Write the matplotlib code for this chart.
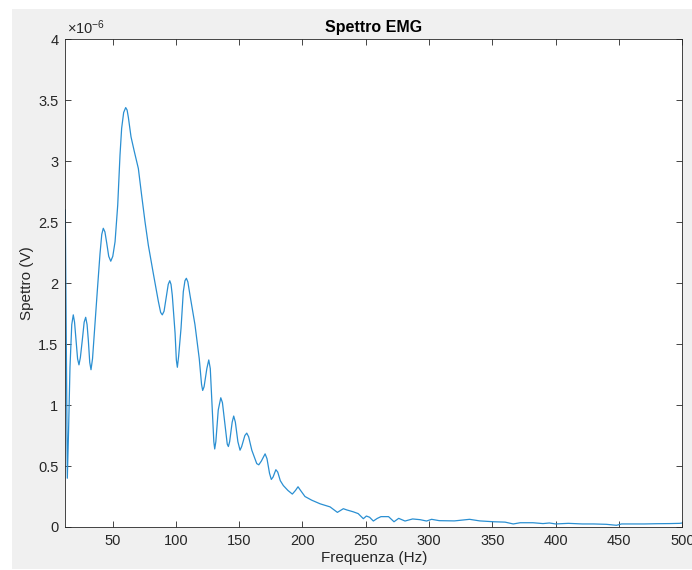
import matplotlib
matplotlib.use('Agg')
import matplotlib.pyplot as plt
from matplotlib.patches import Rectangle

plt.rcParams['font.family'] = ['Liberation Sans', 'DejaVu Sans']
plt.rcParams['mathtext.default'] = 'regular'

# spettro EMG, valori in unita' di 1e-6 V
freq = [12.7, 14.3, 15.3, 16.4, 17.8, 19.0, 20.0, 21.2, 22.4, 23.5, 24.6, 26.1,
        27.6, 28.8, 29.9, 30.9, 32.0, 33.0, 34.2, 35.6, 38.0, 40.1, 41.5, 42.7,
        44.0, 45.4, 47.0, 48.6, 50.2, 52.0, 54.1, 55.9, 57.2, 58.8, 60.4, 61.5,
        62.5, 64.6, 67.2, 70.4, 73.0, 75.7, 78.3, 82.2, 86.2, 88.0, 89.3, 90.7,
        92.2, 94.0, 95.2, 96.2, 97.2, 99.4, 100.4, 101.2, 102.2, 104.1, 105.9, 107.2,
        108.3, 109.5, 111.2, 115.1, 118.5, 120.3, 121.2, 122.3, 124.5, 126.0, 127.2, 128.8,
        130.0, 130.7, 131.6, 133.5, 135.5, 136.8, 139.0, 140.6, 141.5, 142.5, 144.5, 145.7,
        147.0, 149.0, 150.7, 152.0, 154.5, 156.0, 157.5, 160.0, 163.9, 165.5, 167.5, 170.5,
        172.0, 174.0, 175.4, 176.8, 179.0, 180.5, 182.5, 184.9, 188.5, 192.0, 194.5, 196.5,
        198.5, 202.0, 207.3, 214.0, 221.8, 225.0, 227.6, 230.0, 232.3, 235.0, 240.0, 244.0,
        248.1, 250.5, 253.0, 256.0, 259.0, 262.0, 268.0, 272.3, 276.0, 281.0, 287.0, 293.0,
        298.0, 302.0, 308.0, 320.0, 332.0, 340.0, 351.0, 360.0, 366.5, 372.0, 382.0, 390.0,
        395.0, 400.0, 410.0, 421.0, 430.0, 440.0, 448.0, 452.0, 460.0, 470.0, 480.0, 490.0,
        498.0, 500.0]
spettro = [2.60, 0.40, 0.80, 1.31, 1.66, 1.74, 1.68, 1.53, 1.38, 1.33, 1.39, 1.53,
           1.68, 1.72, 1.66, 1.53, 1.35, 1.29, 1.38, 1.59, 1.94, 2.24, 2.40, 2.45,
           2.42, 2.33, 2.22, 2.18, 2.22, 2.34, 2.64, 3.05, 3.27, 3.40, 3.44, 3.42,
           3.36, 3.20, 3.08, 2.94, 2.72, 2.50, 2.31, 2.08, 1.85, 1.76, 1.74, 1.77,
           1.87, 1.99, 2.02, 1.99, 1.90, 1.59, 1.37, 1.31, 1.40, 1.63, 1.93, 2.02,
           2.04, 2.01, 1.90, 1.66, 1.38, 1.17, 1.12, 1.15, 1.30, 1.37, 1.30, 0.96,
           0.70, 0.64, 0.70, 0.96, 1.06, 1.02, 0.82, 0.68, 0.66, 0.70, 0.86, 0.91,
           0.86, 0.70, 0.63, 0.66, 0.75, 0.77, 0.74, 0.63, 0.52, 0.51, 0.54, 0.60,
           0.56, 0.44, 0.39, 0.41, 0.47, 0.45, 0.38, 0.34, 0.30, 0.27, 0.30, 0.33,
           0.30, 0.25, 0.22, 0.19, 0.165, 0.14, 0.12, 0.135, 0.15, 0.14, 0.125, 0.11,
           0.068, 0.09, 0.08, 0.049, 0.07, 0.085, 0.085, 0.043, 0.071, 0.049, 0.066, 0.06,
           0.049, 0.063, 0.052, 0.05, 0.063, 0.05, 0.043, 0.04, 0.025, 0.035, 0.035, 0.028,
           0.033, 0.025, 0.03, 0.025, 0.025, 0.022, 0.014, 0.025, 0.025, 0.025, 0.027, 0.028,
           0.03, 0.033]

xticks = [50, 100, 150, 200, 250, 300, 350, 400, 450, 500]
yticks = [0, 0.5, 1, 1.5, 2, 2.5, 3, 3.5, 4]
ytick_labels = ['0', '0.5', '1', '1.5', '2', '2.5', '3', '3.5', '4']

fig = plt.figure(figsize=(6.92, 5.70), dpi=100, facecolor='white')
# sfondo grigio della finestra
fig.patches.append(Rectangle((12 / 692, 1 / 570), 680 / 692, 560 / 570,
                             transform=fig.transFigure, facecolor='#f0f0f0',
                             edgecolor='none', zorder=-1))

ax = fig.add_axes([65.3 / 692, 43 / 570, 617 / 692, 487.7 / 570])
ax.plot(freq, spettro, color='#2a8fd2', linewidth=0.9, solid_joinstyle='round')

ax.set_xlim(12.7, 500)
ax.set_ylim(0, 4)
ax.set_xticks(xticks)
ax.set_yticks(yticks)
ax.set_yticklabels(ytick_labels)

dark = '#262626'
ax.tick_params(direction='in', length=4.3, width=0.6, colors=dark,
               labelsize=10.5, top=True, right=True, pad=5)
for s in ax.spines.values():
    s.set_color(dark)
    s.set_linewidth(0.6)

ax.set_xlabel('Frequenza (Hz)', fontsize=11, color=dark, labelpad=2)
ax.set_ylabel('Spettro (V)', fontsize=11, color=dark, labelpad=3)
ax.set_title('Spettro EMG', fontsize=11.5, fontweight='bold', color='black', pad=5)
ax.text(0.002, 1.004, '×10$^{-6}$', transform=ax.transAxes, fontsize=10.5,
        color=dark, ha='left', va='bottom')

fig.savefig('out.png', dpi=100, facecolor=fig.get_facecolor())
